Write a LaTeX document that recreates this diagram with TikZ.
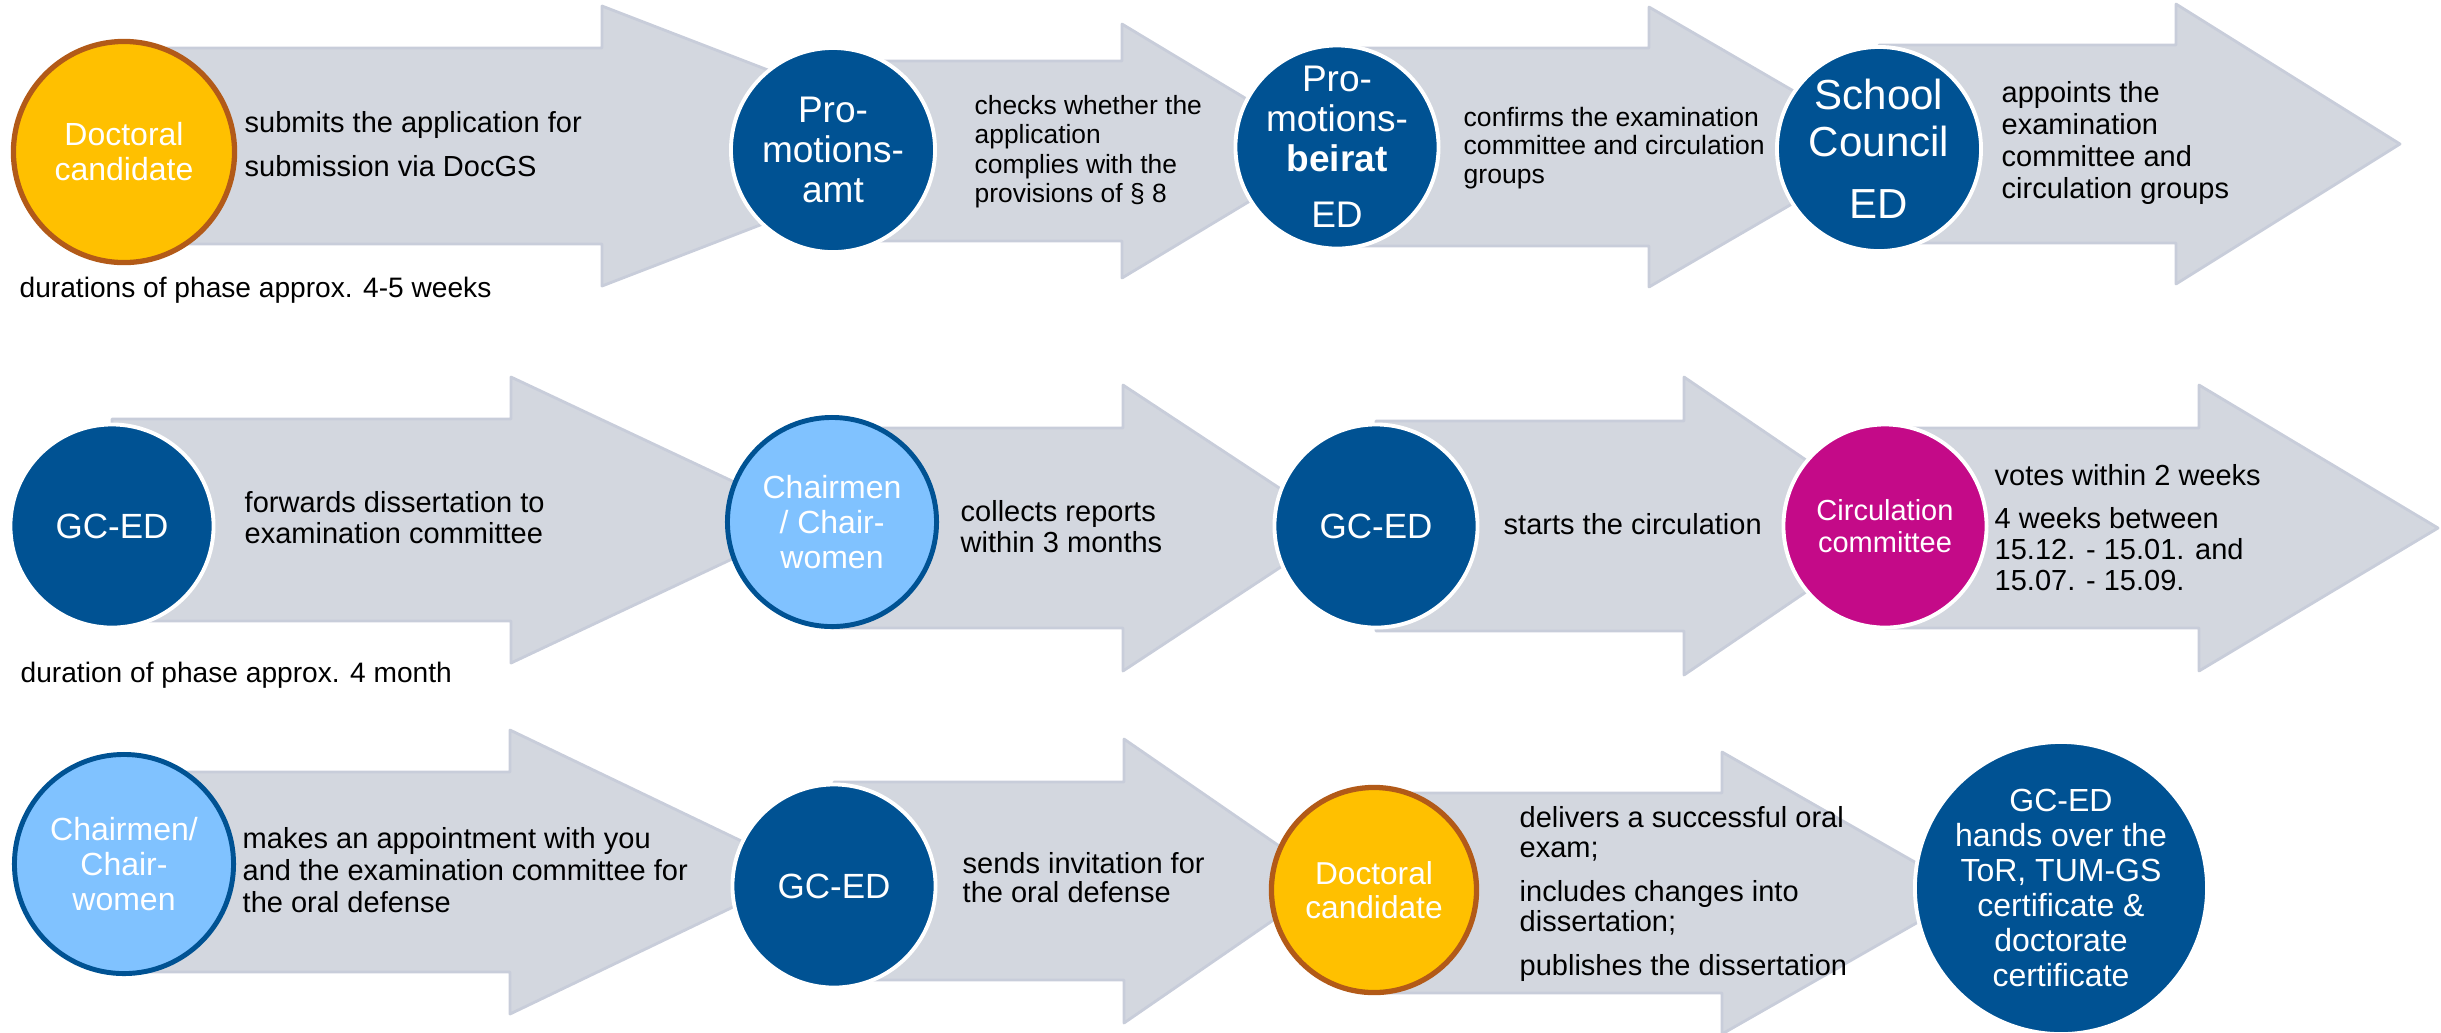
\documentclass[tikz,border=0pt]{standalone}
\usepackage{fontspec}
\setmainfont{Liberation Sans}
\usetikzlibrary{positioning, backgrounds}
\definecolor{tumblue}{RGB}{0,82,147}
\definecolor{flowgray}{RGB}{211,215,223}
\definecolor{flowedge}{RGB}{200,205,218}
\definecolor{candorange}{RGB}{255,192,0}
\definecolor{candbrown}{RGB}{178,90,24}
\definecolor{chairblue}{RGB}{128,194,255}
\definecolor{circmagenta}{RGB}{196,10,136}
\tikzset{
    stage/.style = {circle, inner sep=0pt, minimum size=#1},
    office/.style = {stage=#1, fill=tumblue, draw=white, line width=1.1pt},
    cand/.style = {stage=#1, fill=candorange, draw=candbrown, line width=1.5pt},
    chair/.style = {stage=#1, fill=chairblue, draw=tumblue, line width=1.4pt},
    circmag/.style = {stage=#1, fill=circmagenta, draw=white, line width=1.1pt},
    stagetext/.style = {inner sep=0pt, align=center, white},
    desc/.style = {anchor=base west, inner sep=0pt, align=left, black,
        font=\fontsize{8.25}{#1}\selectfont},
    desc/.default = 8.54,
    flow/.style = {fill=flowgray, draw=flowedge, line width=0.8pt, line join=round},
}
\newcommand{\stagearrow}[6]{%
    \filldraw[flow] (#1.center |- 0,#4-#5) -- (#2,#4-#5) -- (#2,#4-#6) -- (#3,#4)
        -- (#2,#4+#6) -- (#2,#4+#5) -- (#1.center |- 0,#4+#5) -- cycle;}
\newcommand{\stagefont}{\fontsize{9.1}{9.96}\selectfont}
\newcommand{\gcfont}{\fontsize{9.96}{11}\selectfont}

\begin{document}
\begin{tikzpicture}[x=0.01cm, y=-0.01cm]
        \useasboundingbox (0,0) rectangle (2441,1032);
        \node [cand=2.21cm] (cand1) at (124,152) {};
        \node [office=2.04cm] (office1) at (833,150) {};
        \node [office=2.03cm] (board) at (1337,147) {};
        \node [office=2.04cm] (council) at (1879,149) {};
        \node [office=2.03cm] (gced1) at (112,526) {};
        \node [chair=2.09cm] (chair1) at (832,522) {};
        \node [office=2.03cm] (gced2) at (1376,526) {};
        \node [circmag=2.03cm] (circgroup) at (1885,526) {};
        \node [chair=2.19cm] (chair2) at (124,864) {};
        \node [office=2.03cm] (gced3) at (834,886) {};
        \node [cand=2.05cm] (cand2) at (1374,890) {};
        \node [office=2.92cm] (gced4) at (2061,888) {};

        \begin{scope}[on background layer]
        \stagearrow{cand1}{602}{965}{146}{98}{140}
        \stagearrow{office1}{1122}{1333}{151}{90}{127}
        \stagearrow{board}{1649}{1890}{147}{99}{140}
        \stagearrow{council}{2176}{2400}{144}{99}{140}
        \stagearrow{gced1}{511}{815}{520}{101}{143}
        \stagearrow{chair1}{1123}{1340}{528}{100}{143}
        \stagearrow{gced2}{1684}{1903}{526}{105}{149}
        \stagearrow{circgroup}{2199}{2438}{528}{100}{143}
        \stagearrow{chair2}{510}{806}{872}{100}{142}
        \stagearrow{gced3}{1124}{1330}{881}{99}{142}
        \stagearrow{cand2}{1722}{1969}{893}{100}{141}
        \end{scope}

        \node [stagetext, font=\stagefont] (cand1-t) at (cand1) {Doctoral\\candidate};
        \node [stagetext, font=\fontsize{10.53}{11.38}\selectfont] (office1-t) at (office1) {Pro-\\motions-\\amt};
        \node [stagetext, font=\fontsize{10.53}{11.38}\selectfont] (board-t) at (board) {Pro-\\motions-\\\textbf{beirat}\\[4.5pt]ED};
        \node [stagetext, font=\fontsize{11.95}{13.37}\selectfont] (council-t) at (council) {School\\Council\\[4.3pt]ED};
        \node [stagetext, font=\gcfont] (gced1-t) at (gced1) {GC-ED};
        \node [stagetext, font=\stagefont] (chair1-t) at (chair1) {Chairmen\\/ Chair-\\women};
        \node [stagetext, font=\gcfont] (gced2-t) at (gced2) {GC-ED};
        \node [stagetext, font=\fontsize{8.25}{9.1}\selectfont] (circgroup-t) at (circgroup) {Circulation\\committee};
        \node [stagetext, font=\stagefont] (chair2-t) at (chair2) {Chairmen/\\Chair-\\women};
        \node [stagetext, font=\gcfont] (gced3-t) at (gced3) {GC-ED};
        \node [stagetext, font=\fontsize{9}{9.67}\selectfont] (cand2-t) at (cand2) {Doctoral\\candidate};
        \node [stagetext, font=\stagefont] (gced4-t) at (gced4) {GC-ED\\hands over the\\ToR, TUM-GS\\certificate \&\\doctorate\\certificate};

        \node [desc=12.5] (submit) at (244,176) {submits the application for\\submission via DocGS};
        \node [desc, font=\fontsize{8}{9}\selectfont] (phase1) at (19,297) {durations of phase approx. 4-5 weeks};
        \node [desc, font=\fontsize{7.5}{8.25}\selectfont] (check) at (974,202) {checks whether the\\application\\complies with the\\provisions of § 8};
        \node [desc, font=\fontsize{7.55}{7.97}\selectfont] (confirm) at (1463,183) {confirms the examination\\committee and circulation\\groups};
        \node [desc=9.1] (appoint) at (2001,198) {appoints the\\examination\\committee and\\circulation groups};
        \node [desc] (forward) at (244,543) {forwards dissertation to\\examination committee};
        \node [desc, font=\fontsize{8}{9}\selectfont] (phase2) at (20,682) {duration of phase approx. 4 month};
        \node [desc] (collect) at (960,552) {collects reports\\within 3 months};
        \node [desc] (start) at (1503,534) {starts the circulation};
        \node [desc=8.8] (vote) at (1994,590) {votes within 2 weeks\\[3.4pt]4 weeks between\\15.12. - 15.01. and\\15.07. - 15.09.};
        \node [desc=9.1] (meet) at (242,912) {makes an appointment with you\\and the examination committee for\\the oral defense};
        \node [desc=8.25] (invite) at (962,902) {sends invitation for\\the oral defense};
        \node [desc] (deliver) at (1519,975) {delivers a successful oral\\exam;\\[4pt]includes changes into\\dissertation;\\[3.7pt]publishes the dissertation};
\end{tikzpicture}
\end{document}
